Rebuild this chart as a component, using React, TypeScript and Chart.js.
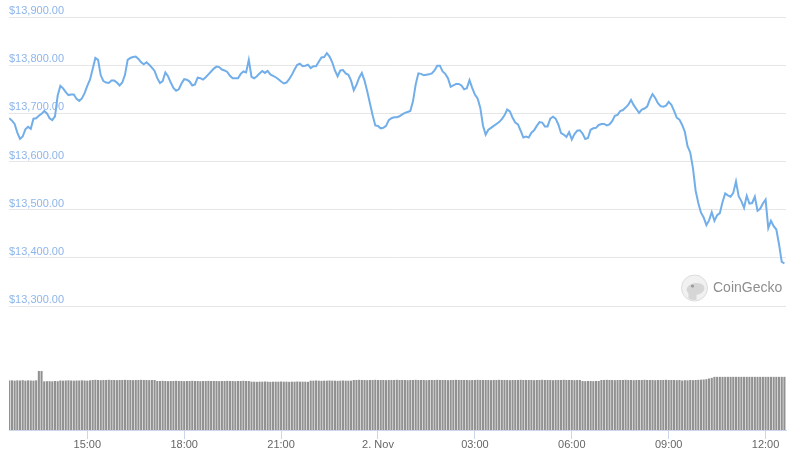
import React, { useEffect, useRef } from "react";
import { Chart, registerables } from "chart.js";

Chart.register(...registerables);

// ---- data ----
const START_HOUR = 12 + 35 / 60; // 1 Nov 12:35
const STEP_HOURS = 5 / 60; // 5-minute samples

const PRICES = [
  13690, 13685, 13678, 13660, 13647, 13652, 13667, 13672, 13668, 13689,
  13690, 13695, 13699, 13705, 13700, 13690, 13686, 13694, 13737, 13757,
  13752, 13744, 13738, 13739, 13739, 13730, 13726, 13731, 13742, 13757,
  13770, 13792, 13815, 13811, 13779, 13767, 13764, 13763, 13768, 13768,
  13764, 13758, 13764, 13780, 13811, 13815, 13817, 13818, 13813, 13806,
  13802, 13806, 13801, 13795, 13788, 13773, 13763, 13767, 13785, 13777,
  13764, 13753, 13747, 13750, 13762, 13771, 13770, 13766, 13758, 13760,
  13774, 13773, 13770, 13775, 13781, 13787, 13793, 13797, 13796, 13791,
  13789, 13786, 13778, 13773, 13773, 13773, 13782, 13787, 13785, 13811,
  13776, 13773, 13777, 13783, 13788, 13784, 13788, 13781, 13778, 13775,
  13771, 13766, 13762, 13764, 13771, 13780, 13791, 13801, 13803, 13798,
  13799, 13801, 13794, 13798, 13798, 13807, 13816, 13817, 13825, 13818,
  13806, 13789, 13777, 13789, 13790, 13783, 13780, 13768, 13748, 13759,
  13774, 13784, 13768, 13746, 13721, 13696, 13675, 13674, 13669, 13670,
  13674, 13686, 13690, 13692, 13692, 13694, 13698, 13701, 13703, 13705,
  13725, 13760, 13783, 13782, 13779, 13780, 13781, 13783, 13789, 13799,
  13799, 13787, 13782, 13773, 13755, 13758, 13761, 13761, 13758, 13750,
  13752, 13769, 13753, 13739, 13731, 13712, 13675, 13656, 13666, 13670,
  13674, 13678, 13682, 13688, 13696, 13708, 13704, 13691, 13681, 13677,
  13664, 13650, 13652, 13650, 13660, 13665, 13674, 13682, 13681, 13673,
  13673, 13689, 13693, 13689, 13677, 13659, 13656, 13651, 13661, 13646,
  13657, 13664, 13665, 13658, 13647, 13649, 13666, 13669, 13670, 13676,
  13678, 13678, 13675, 13677, 13684, 13695, 13697, 13705, 13707, 13712,
  13718, 13728, 13717, 13709, 13701, 13708, 13710, 13714, 13729, 13740,
  13732, 13721, 13715, 13714, 13716, 13724, 13718, 13705, 13691, 13687,
  13676, 13662, 13632, 13619, 13587, 13540, 13514, 13494, 13484, 13468,
  13478, 13495, 13477, 13489, 13493, 13516, 13534, 13530, 13527, 13535,
  13559, 13528, 13518, 13504, 13529, 13513, 13514, 13527, 13498, 13502,
  13513, 13521, 13462, 13477, 13466, 13459, 13428, 13392, 13389,
];

// 24h volume, billions USD
const VOLUMES = [
  29.7, 29.8, 29.6, 29.8, 29.7, 29.9, 29.6, 29.8, 29.7, 29.6,
  29.8, 35.4, 35.4, 29.2, 29.3, 29.3, 29.2, 29.4, 29.3, 29.7,
  29.6, 29.7, 29.8, 29.7, 29.6, 29.7, 29.7, 29.8, 29.7, 29.6,
  29.8, 30.0, 30.1, 30.0, 29.9, 30.0, 30.0, 30.1, 30.0, 30.0,
  29.9, 30.0, 30.0, 30.1, 30.0, 30.0, 29.9, 30.0, 30.0, 30.1,
  30.0, 30.0, 29.9, 30.0, 30.0, 29.4, 29.4, 29.5, 29.4, 29.3,
  29.4, 29.4, 29.5, 29.4, 29.4, 29.3, 29.4, 29.4, 29.5, 29.4,
  29.4, 29.3, 29.4, 29.4, 29.5, 29.4, 29.4, 29.4, 29.3, 29.4,
  29.4, 29.5, 29.4, 29.4, 29.3, 29.4, 29.4, 29.5, 29.4, 29.4,
  29.0, 29.0, 28.9, 29.0, 29.0, 29.1, 29.0, 28.9, 29.0, 29.0,
  29.0, 29.1, 29.0, 29.0, 28.9, 29.0, 29.0, 29.1, 29.0, 29.0,
  29.0, 28.9, 29.6, 29.6, 29.7, 29.6, 29.5, 29.6, 29.6, 29.7,
  29.6, 29.6, 29.5, 29.6, 29.7, 29.6, 29.6, 29.6, 30.0, 30.0,
  30.1, 30.0, 30.0, 29.9, 30.0, 30.0, 30.1, 30.0, 30.0, 30.0,
  29.9, 30.0, 30.0, 30.0, 30.1, 30.0, 30.0, 30.0, 29.9, 30.0,
  30.0, 30.1, 30.0, 30.0, 30.0, 29.9, 30.0, 30.0, 30.0, 30.1,
  30.0, 30.0, 30.0, 29.9, 30.0, 30.0, 30.1, 30.0, 30.0, 30.0,
  30.0, 29.9, 30.0, 30.0, 30.1, 30.0, 30.0, 30.0, 30.0, 29.9,
  30.0, 30.0, 30.1, 30.0, 30.0, 30.0, 29.9, 30.0, 30.0, 30.0,
  30.1, 30.0, 30.0, 30.0, 30.0, 29.9, 30.0, 30.0, 30.1, 30.0,
  30.0, 30.0, 29.9, 30.0, 30.0, 30.0, 30.1, 30.0, 30.0, 30.0,
  29.9, 30.0, 30.0, 29.4, 29.3, 29.4, 29.4, 29.3, 29.4, 29.4,
  30.0, 30.0, 30.1, 30.0, 30.0, 29.9, 30.0, 30.0, 30.0, 30.1,
  30.0, 30.0, 29.9, 30.0, 30.0, 30.0, 30.1, 30.0, 30.0, 30.0,
  29.9, 30.0, 30.0, 30.0, 30.1, 30.0, 30.0, 30.0, 29.9, 30.0,
  29.7, 29.9, 29.8, 30.0, 29.9, 30.0, 30.1, 30.2, 30.3, 30.5,
  30.9, 31.3, 31.9, 31.9, 31.9, 31.9, 31.9, 31.9, 31.9, 31.9,
  31.9, 31.9, 31.9, 31.9, 31.9, 31.9, 31.9, 31.9, 31.9, 31.9,
  31.9, 31.9, 31.9, 31.9, 31.9, 31.9, 31.9, 31.9, 31.9,
];

const PRICE_TICKS = [13300, 13400, 13500, 13600, 13700, 13800, 13900];
const TIME_TICKS = [15, 18, 21, 24, 27, 30, 33, 36];
const TIME_TICK_LABELS = ["15:00", "18:00", "21:00", "2. Nov", "03:00", "06:00", "09:00", "12:00"];

// ---- layout / style ----
const X_MIN = 12.576;
const X_MAX = 36.632;
const PRICE_MIN = 13043;
const PRICE_MAX = 13900;
const VOLUME_MAX = 247.8;
const FONT = "'Liberation Sans', Arial, sans-serif";

const fmtPrice = (v: number) =>
  "$" + v.toLocaleString("en-US", { minimumFractionDigits: 2, maximumFractionDigits: 2 });

const watermark = {
  id: "watermark",
  afterDraw(chart: any) {
    const ctx = chart.ctx;
    ctx.save();
    const cx = 694.5, cy = 288, r = 13;
    ctx.beginPath();
    ctx.arc(cx, cy, r, 0, Math.PI * 2);
    ctx.fillStyle = "#f1f1f1";
    ctx.fill();
    ctx.lineWidth = 1;
    ctx.strokeStyle = "#dcdcdc";
    ctx.stroke();
    ctx.save();
    ctx.beginPath();
    ctx.arc(cx, cy, r - 1, 0, Math.PI * 2);
    ctx.clip();
    ctx.beginPath();
    ctx.ellipse(cx + 1, cy + 1, 9, 6, -0.15, 0, Math.PI * 2);
    ctx.fillStyle = "#d6d6d6";
    ctx.fill();
    ctx.beginPath();
    ctx.rect(cx - 6, cy + 3, 8, 12);
    ctx.fill();
    ctx.restore();
    ctx.beginPath();
    ctx.arc(cx - 2, cy - 2, 1.6, 0, Math.PI * 2);
    ctx.fillStyle = "#9a9a9a";
    ctx.fill();
    ctx.font = "14px " + FONT;
    ctx.fillStyle = "#8e8e8e";
    ctx.textBaseline = "middle";
    ctx.textAlign = "left";
    ctx.fillText("CoinGecko", 713, 288);
    ctx.restore();
  },
};

export default function App() {
  const ref = useRef<HTMLCanvasElement>(null);

  useEffect(() => {
    if (!ref.current) return;
    const times = PRICES.map((_, i) => START_HOUR + i * STEP_HOURS);
    const chart = new Chart(ref.current, {
      type: "line",
      data: {
        datasets: [
          {
            type: "line",
            data: PRICES.map((p, i) => ({ x: times[i], y: p })),
            yAxisID: "y",
            borderColor: "#72aee9",
            borderWidth: 2,
            pointRadius: 0,
            tension: 0,
            fill: false,
            order: 0,
          } as any,
          {
            type: "bar",
            data: VOLUMES.map((v, i) => ({ x: times[i], y: v })),
            yAxisID: "v",
            backgroundColor: "#919191",
            barPercentage: 0.78,
            categoryPercentage: 1,
            order: 1,
          } as any,
        ],
      },
      options: {
        animation: false,
        responsive: true,
        maintainAspectRatio: false,
        events: [],
        layout: { padding: { left: 9, right: 19, top: 17, bottom: 11 } },
        plugins: { legend: { display: false }, tooltip: { enabled: false } },
        scales: {
          x: {
            type: "linear",
            min: X_MIN,
            max: X_MAX,
            offset: false,
            afterBuildTicks: (s: any) => {
              s.ticks = TIME_TICKS.map((v) => ({ value: v }));
            },
            grid: { offset: false, drawOnChartArea: false, color: "#ccd6eb", tickLength: 9, drawTicks: true },
            border: { display: true, color: "#ccd6eb" },
            ticks: {
              padding: 0,
              color: "#666666",
              maxRotation: 0,
              autoSkip: false,
              font: { family: FONT, size: 11, lineHeight: 1 },
              callback: (v: any) => TIME_TICK_LABELS[TIME_TICKS.indexOf(Number(v))] ?? "",
            },
          },
          y: {
            type: "linear",
            position: "left",
            min: PRICE_MIN,
            max: PRICE_MAX,
            afterBuildTicks: (s: any) => {
              s.ticks = PRICE_TICKS.map((v) => ({ value: v }));
            },
            grid: { color: "#e6e6e6", drawTicks: false, lineWidth: 1 },
            border: { display: false },
            ticks: {
              mirror: true,
              padding: 0,
              labelOffset: -6,
              color: "#8db5ec",
              font: { family: FONT, size: 11 },
              callback: (v: any) => fmtPrice(Number(v)),
            },
          },
          v: {
            type: "linear",
            display: false,
            min: 0,
            max: VOLUME_MAX,
          },
        },
      } as any,
      plugins: [watermark],
    });
    return () => chart.destroy();
  }, []);

  return (
    <div style={{ position: "absolute", left: 0, top: 0, width: 805, height: 461, background: "#fff" }}>
      <canvas ref={ref} />
    </div>
  );
}
